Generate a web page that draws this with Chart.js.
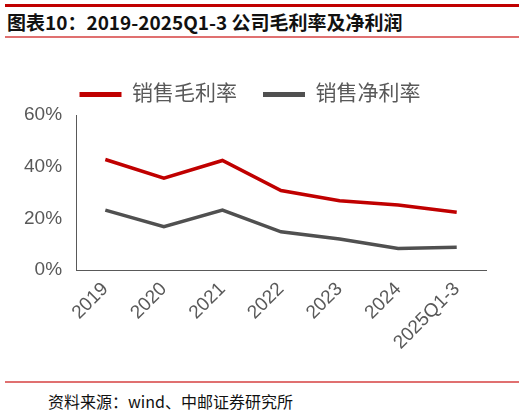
<!DOCTYPE html>
<html><head><meta charset="utf-8">
<script src="https://cdn.jsdelivr.net/npm/chart.js@4/dist/chart.umd.min.js"></script>
<style>
body{margin:0;width:524px;height:416px;background:#fff;position:relative;overflow:hidden;font-family:"Noto Sans CJK SC";}
#t1{position:absolute;left:5px;top:4px;width:514px;height:3px;background:#c00000;}
#title{position:absolute;left:7px;top:8px;font-size:19px;font-weight:bold;color:#111;font-family:"Noto Sans CJK SC";letter-spacing:0px;}
#t2{position:absolute;left:5px;top:36px;width:514px;height:2px;background:#e07070;}
#t3{position:absolute;left:5px;top:381px;width:514px;height:2px;background:#e07070;}
#src{position:absolute;left:48px;top:389px;font-size:16px;color:#111;}
#wrap{position:absolute;left:0;top:52px;width:524px;height:310px;}
</style></head><body>
<div id="t1"></div><div id="title">图表10：2019-2025Q1-3 公司毛利率及净利润</div><div id="t2"></div>
<div id="wrap"><canvas id="c"></canvas></div>
<div id="t3"></div><div id="src">资料来源：wind、中邮证券研究所</div>
<script>
const categories=["2019","2020","2021","2022","2023","2024","2025Q1-3"];
const grossMargin=[42.8,35.6,42.4,30.8,26.8,25.2,22.4];
const netMargin=[23.2,16.8,23.2,14.8,12.0,8.4,8.8];
const yTicks=[0,20,40,60];
new Chart(document.getElementById('c'),{type:'line',
data:{labels:categories,datasets:[
{label:'销售毛利率',data:grossMargin,borderColor:'#c00000',backgroundColor:'#c00000',borderWidth:3.5,pointRadius:0,tension:0},
{label:'销售净利率',data:netMargin,borderColor:'#505050',backgroundColor:'#505050',borderWidth:3.5,pointRadius:0,tension:0}]},
options:{responsive:true,maintainAspectRatio:false,animation:false,
layout:{padding:{left:14,right:38,top:6,bottom:0}},
plugins:{legend:{position:'top',labels:{boxWidth:42,boxHeight:0,padding:26,color:'#595959',font:{size:21,family:'Liberation Sans, Noto Sans CJK SC'},
generateLabels:(ch)=>ch.data.datasets.map((d,i)=>({text:d.label,strokeStyle:d.borderColor,fillStyle:d.borderColor,lineWidth:5,fontColor:'#595959',datasetIndex:i}))}},tooltip:{enabled:false}},
scales:{
x:{offset:true,grid:{display:false,drawTicks:false},border:{color:'#595959',width:1},ticks:{color:'#595959',font:{size:19,family:'Liberation Sans'},maxRotation:45,minRotation:45,padding:8}},
y:{min:0,max:60,afterBuildTicks:(s)=>{s.ticks=yTicks.map(v=>({value:v}));},grid:{display:false,drawTicks:true,tickLength:4},border:{color:'#595959',width:1},ticks:{color:'#595959',font:{size:19,family:'Liberation Sans'},padding:10,callback:v=>v+'%'}}}}});
</script></body></html>
